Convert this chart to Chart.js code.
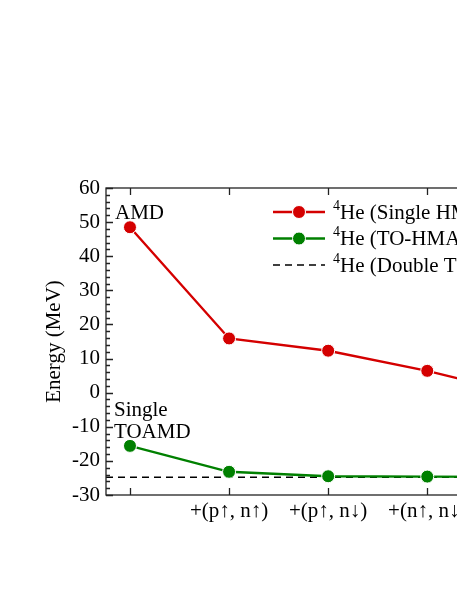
<!DOCTYPE html>
<html>
<head>
<meta charset="utf-8">
<script src="https://cdn.jsdelivr.net/npm/chart.js@4.4.1/dist/chart.umd.min.js"></script>
<style>
  html, body { margin: 0; padding: 0; background: #fff; overflow: hidden; }
  canvas { display: block; }
</style>
</head>
<body>
<canvas id="energy" width="570" height="591"></canvas>
<script>
// x positions of the steps and their labels
const steps = [0, 1, 2, 3, 4];
const stepLabels = ['', '+(p\u2191, n\u2191)', '+(p\u2191, n\u2193)', '+(n\u2191, n\u2193)', '+(p\u2193, n\u2193)'];

// energies (MeV)
const singleHM = [48.5, 15.9, 12.3, 6.4, -0.7];
const toHM = [-15.6, -23.2, -24.5, -24.6, -24.7];
const doubleTO = -24.8;

const yTicks = [-30, -20, -10, 0, 10, 20, 30, 40, 50, 60];
const xMin = -0.242, xMax = 4.242;

const FONT = 'Liberation Serif, Times New Roman, serif';
const RED = '#d40000';
const GREEN = '#008000';

const ctx = document.getElementById('energy');

// box, inward ticks, text labels and legend
const decor = {
    id: 'decor',
    afterDraw(chart) {
        const c = chart.ctx;
        const a = chart.chartArea;
        const xs = chart.scales.x, ys = chart.scales.y;
        c.save();
        c.strokeStyle = '#222';
        c.lineWidth = 1.3;
        c.strokeRect(a.left, a.top, a.right - a.left, a.bottom - a.top);
        c.beginPath();
        for (let v = -30; v <= 60; v += 2) {
            const y = Math.round(ys.getPixelForValue(v)) + 0.5;
            const len = (v % 10 === 0) ? 7 : 4;
            c.moveTo(a.left, y); c.lineTo(a.left + len, y);
            c.moveTo(a.right, y); c.lineTo(a.right - len, y);
        }
        steps.forEach(s => {
            const x = Math.round(xs.getPixelForValue(s)) + 0.5;
            c.moveTo(x, a.bottom); c.lineTo(x, a.bottom - 7);
            c.moveTo(x, a.top); c.lineTo(x, a.top + 7);
        });
        c.stroke();

        // annotations
        c.fillStyle = '#000';
        c.font = '21px ' + FONT;
        c.textAlign = 'left';
        c.textBaseline = 'alphabetic';
        const x0 = xs.getPixelForValue(steps[0]);
        c.fillText('AMD', x0 - 15, ys.getPixelForValue(singleHM[0]) - 8);
        c.fillText('Single', x0 - 16, ys.getPixelForValue(toHM[0]) - 30);
        c.fillText('TOAMD', x0 - 16, ys.getPixelForValue(toHM[0]) - 8);

        // legend
        const lx = 273, lw = 52, tx = 333;
        let ly = 212;
        chart.data.datasets.forEach(ds => {
            c.save();
            c.strokeStyle = ds.borderColor;
            c.lineWidth = ds.borderWidth;
            c.setLineDash(ds.borderDash || []);
            c.beginPath();
            c.moveTo(lx, ly); c.lineTo(lx + lw, ly);
            c.stroke();
            c.restore();
            if (ds.pointRadius > 0) {
                c.beginPath();
                c.arc(lx + lw / 2, ly, 6.5, 0, Math.PI * 2);
                c.fillStyle = ds.backgroundColor;
                c.fill();
                c.strokeStyle = '#fff';
                c.lineWidth = 1;
                c.stroke();
            }
            c.fillStyle = '#000';
            c.textBaseline = 'middle';
            c.font = '14px ' + FONT;
            c.fillText('4', tx, ly - 6);
            c.font = '21px ' + FONT;
            c.fillText(ds.label.slice(1), tx + 7, ly + 1);
            ly += 26.5;
        });
        c.restore();
    }
};

new Chart(ctx, {
    type: 'line',
    data: {
        datasets: [{
            label: '\u2074He (Single HMAMD)',
            data: steps.map((s, i) => ({x: s, y: singleHM[i]})),
            borderColor: RED,
            backgroundColor: RED,
            borderWidth: 2.4,
            pointRadius: 6.5,
            pointBorderColor: '#fff',
            pointBorderWidth: 1,
            pointBackgroundColor: RED
        }, {
            label: '\u2074He (TO-HMAMD)',
            data: steps.map((s, i) => ({x: s, y: toHM[i]})),
            borderColor: GREEN,
            backgroundColor: GREEN,
            borderWidth: 2.4,
            pointRadius: 6.5,
            pointBorderColor: '#fff',
            pointBorderWidth: 1,
            pointBackgroundColor: GREEN
        }, {
            label: '\u2074He (Double TOAMD)',
            data: [{x: xMin, y: doubleTO}, {x: xMax, y: doubleTO}],
            borderColor: '#000',
            backgroundColor: '#000',
            borderWidth: 1.6,
            borderDash: [7, 5],
            pointRadius: 0
        }]
    },
    options: {
        responsive: false,
        animation: false,
        layout: { padding: { left: 0, top: 188, right: 9, bottom: 0 } },
        plugins: {
            legend: { display: false },
            tooltip: { enabled: false }
        },
        scales: {
            x: {
                type: 'linear',
                min: xMin,
                max: xMax,
                afterBuildTicks: scale => { scale.ticks = steps.map(v => ({value: v})); },
                afterFit: scale => { scale.height = 96; },
                grid: { display: false, drawTicks: false },
                border: { display: false },
                ticks: {
                    color: '#000',
                    font: { family: FONT, size: 21 },
                    padding: 4,
                    maxRotation: 0,
                    autoSkip: false,
                    callback: (v, i) => stepLabels[i]
                }
            },
            y: {
                min: -30,
                max: 60,
                afterBuildTicks: scale => { scale.ticks = yTicks.map(v => ({value: v})); },
                afterFit: scale => { scale.width = 106; },
                grid: { display: false, drawTicks: false },
                border: { display: false },
                ticks: {
                    color: '#000',
                    font: { family: FONT, size: 21 },
                    padding: 6
                },
                title: {
                    display: true,
                    text: 'Energy (MeV)',
                    color: '#000',
                    font: { family: FONT, size: 21 },
                    padding: { top: 42, bottom: 0 }
                }
            }
        }
    },
    plugins: [decor]
});
</script>
</body>
</html>
